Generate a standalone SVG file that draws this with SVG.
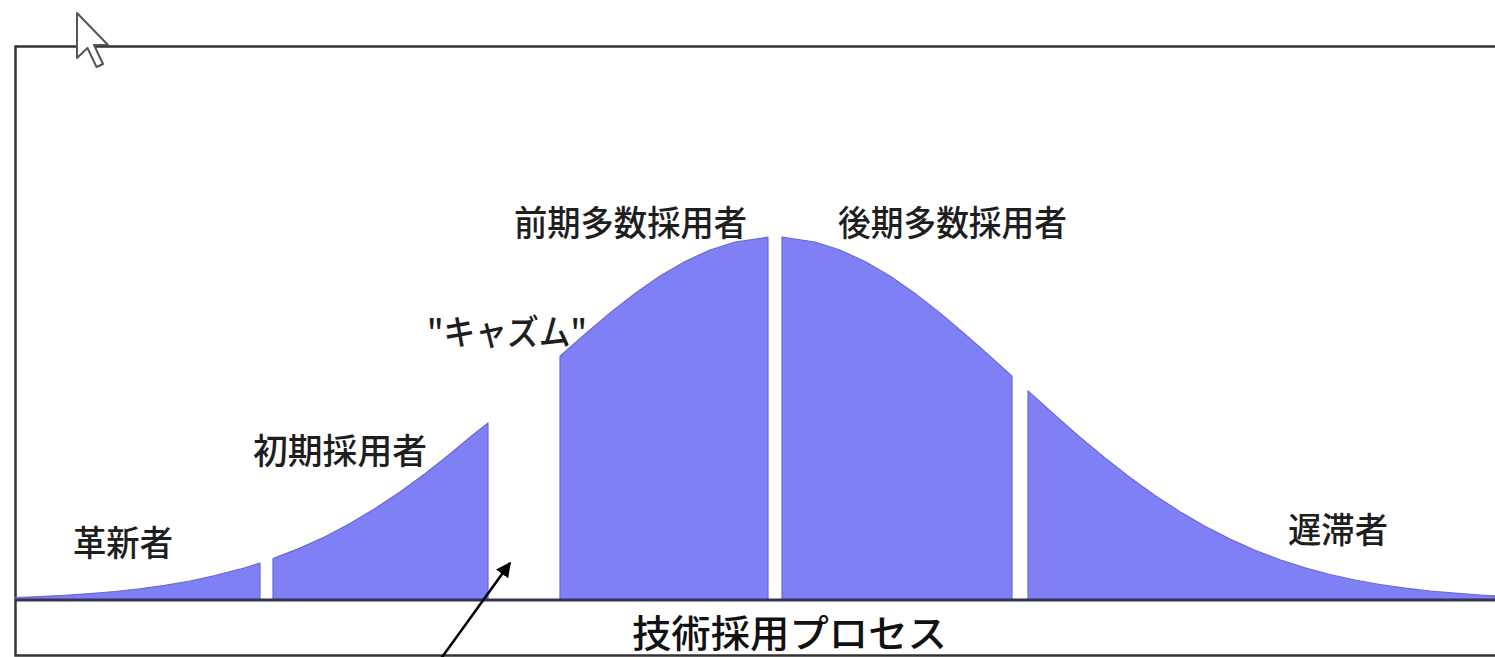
<svg xmlns="http://www.w3.org/2000/svg" width="1495" height="657" viewBox="0 0 1495 657">
  <style>
    .seg { fill: #7f7ff6; stroke: #6a6ad0; stroke-width: 1.2; stroke-linejoin: round; }
    .lbl { font-family: "Noto Sans CJK JP", "Noto Sans CJK SC", sans-serif; font-size: 35px; font-weight: 500; fill: #1e1e1e; dominant-baseline: central; }
    .title { font-family: "Noto Sans CJK JP", "Noto Sans CJK SC", sans-serif; font-size: 38px; font-weight: 500; fill: #111; dominant-baseline: central; }
    .frame { fill: none; stroke: #333; stroke-width: 2.5; }
  </style>
  <defs>
    <marker id="ah" viewBox="0 0 10 10" refX="9" refY="5" markerWidth="6" markerHeight="6" markerUnits="strokeWidth" orient="auto">
      <path d="M0,0 L10,5 L0,10 Z" fill="#000"/>
    </marker>
  </defs>
  <rect width="1495" height="657" fill="#fff"/>

  <g id="frame">
    <path class="frame" d="M1495,46.5 H15.5 V655.5 H1495"/>
  </g>

  <g id="innovators">
    <path class="seg" d="M15,600 L15,597.5 L40,596.6 L65,595.3 L90,593.6 L115,591.5 L140,588.8 L165,585.3 L190,581 L215,575.7 L240,569.2 L260,563.1 L260,600 Z"/>
    <text class="lbl" x="73" y="540" textLength="100" lengthAdjust="spacingAndGlyphs">革新者</text>
  </g>

  <g id="early-adopters">
    <path class="seg" d="M273,600 L273,558.6 L300,548.1 L325,536.7 L350,523.5 L375,508.6 L400,492 L425,473.7 L450,454 L470,437.2 L488,423 L488,600 Z"/>
    <text class="lbl" x="253" y="448" textLength="174" lengthAdjust="spacingAndGlyphs">初期採用者</text>
  </g>

  <g id="chasm">
    <text class="lbl" x="427" y="329" textLength="160" lengthAdjust="spacingAndGlyphs">"キャズム"</text>
  </g>

  <g id="early-majority">
    <path class="seg" d="M560,600 L560,356.3 L585,334.1 L610,312.9 L635,293.4 L660,276.1 L685,261.5 L710,250 L735,242 L768,237.2 L768,600 Z"/>
    <text class="lbl" x="514" y="220" textLength="233" lengthAdjust="spacingAndGlyphs">前期多数採用者</text>
  </g>

  <g id="late-majority">
    <path class="seg" d="M782,600 L782,237.2 L815,242 L840,250 L865,261.5 L890,276.1 L915,293.4 L940,312.9 L965,334.1 L990,356.3 L1012,376.3 L1012,600 Z"/>
    <text class="lbl" x="838" y="220" textLength="229" lengthAdjust="spacingAndGlyphs">後期多数採用者</text>
  </g>

  <g id="laggards">
    <path class="seg" d="M1028,600 L1028,390.9 L1055,415.3 L1080,437.2 L1105,458 L1130,477.5 L1155,495.5 L1180,511.7 L1205,526.3 L1230,539.1 L1255,550.2 L1280,559.7 L1305,567.8 L1330,574.5 L1355,580 L1380,584.5 L1405,588.1 L1430,591 L1455,593.2 L1480,595 L1495,595.8 L1495,600 Z"/>
    <text class="lbl" x="1288" y="527" textLength="100" lengthAdjust="spacingAndGlyphs">遅滞者</text>
  </g>

  <g id="axis">
    <line x1="15" y1="600" x2="1495" y2="600" stroke="#34344f" stroke-width="2.8"/>
    <text class="title" x="632" y="630" textLength="315" lengthAdjust="spacingAndGlyphs">技術採用プロセス</text>
  </g>

  <g id="connectors">
    <line x1="440" y1="660" x2="510" y2="563" stroke="#000" stroke-width="2.5" marker-end="url(#ah)"/>
  </g>

  <g id="cursor">
    <path d="M77,13 L77,58 L87.5,48 L96.5,67 L103,64 L94,45 L108,45 Z" fill="#fff" stroke="#555" stroke-width="2" stroke-linejoin="round"/>
  </g>
</svg>
